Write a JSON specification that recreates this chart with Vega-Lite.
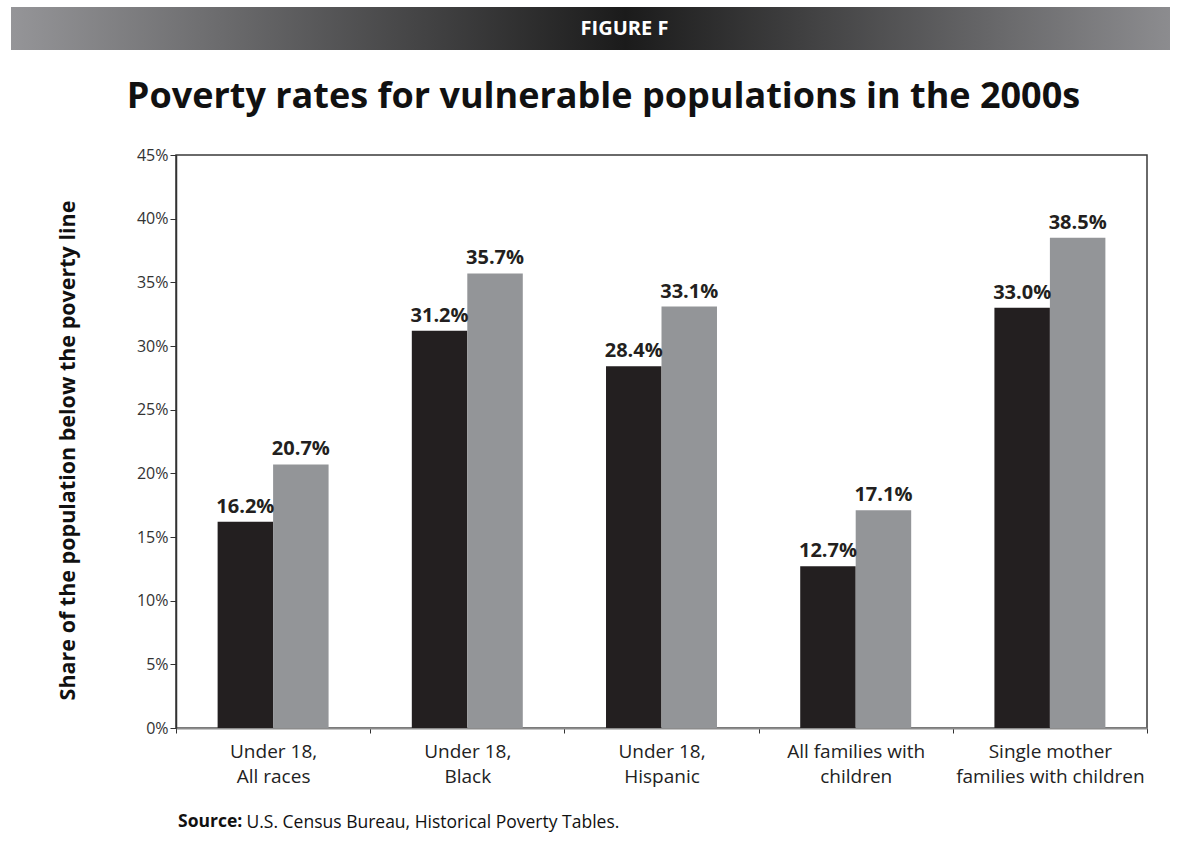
{
  "$schema": "https://vega.github.io/schema/vega-lite/v6.json",
  "background": "white",
  "padding": {"left": 11, "top": 7, "right": 10, "bottom": 5},
  "bounds": "flush",
  "spacing": 105,
  "config": {"view": {"stroke": null}, "font": "Open Sans"},
  "datasets": {
    "poverty": [
      {"group": "Under 18,\nAll races", "year": "2000", "rate": 0.162},
      {"group": "Under 18,\nAll races", "year": "2009", "rate": 0.207},
      {"group": "Under 18,\nBlack", "year": "2000", "rate": 0.312},
      {"group": "Under 18,\nBlack", "year": "2009", "rate": 0.357},
      {"group": "Under 18,\nHispanic", "year": "2000", "rate": 0.284},
      {"group": "Under 18,\nHispanic", "year": "2009", "rate": 0.331},
      {"group": "All families with\nchildren", "year": "2000", "rate": 0.127},
      {"group": "All families with\nchildren", "year": "2009", "rate": 0.171},
      {"group": "Single mother\nfamilies with children", "year": "2000", "rate": 0.330},
      {"group": "Single mother\nfamilies with children", "year": "2009", "rate": 0.385}
    ]
  },
  "vconcat": [
    {
      "width": 1159,
      "height": 43,
      "data": {"values": [{"label": "FIGURE F"}]},
      "layer": [
        {
          "mark": {
            "type": "rect",
            "fill": {
              "gradient": "linear", "x1": 0, "y1": 0, "x2": 1, "y2": 0,
              "stops": [
                {"offset": 0, "color": "#959598"},
                {"offset": 0.53, "color": "#1b1b1b"},
                {"offset": 1, "color": "#8c8c8f"}
              ]
            }
          },
          "encoding": {}
        },
        {
          "mark": {"type": "text", "color": "white", "fontWeight": "bold", "fontSize": 20, "font": "Open Sans", "dx": 34, "baseline": "middle"},
          "encoding": {"text": {"field": "label"}}
        }
      ]
    },
    {
      "bounds": "flush",
      "spacing": 0,
      "hconcat": [
        {
          "width": 165,
          "height": 573,
          "title": {
            "text": "Source:", "orient": "bottom", "anchor": "start", "frame": "group",
            "font": "Open Sans", "fontSize": 17.5, "fontWeight": "bold", "color": "#111111",
            "dx": 167, "offset": 94, "baseline": "middle"
          },
          "data": {"values": [{"blank": ""}]},
          "mark": {"type": "rect", "opacity": 0},
          "encoding": {}
        },
        {
          "width": 971,
          "height": 573,
          "view": {"stroke": "#3a3a3a", "strokeWidth": 1.5},
          "data": {"name": "poverty"},
          "title": {
            "text": "Poverty rates for vulnerable populations in the 2000s",
            "font": "Open Sans", "fontSize": 36, "fontWeight": "bold", "color": "#111111",
            "anchor": "middle", "frame": "group", "dx": -58, "baseline": "alphabetic", "offset": 3
          },
          "encoding": {
            "x": {
              "field": "group", "type": "nominal", "sort": null,
              "scale": {"paddingInner": 0, "paddingOuter": 0},
              "axis": {
                "title": "U.S. Census Bureau, Historical Poverty Tables.",
                "titleFont": "Open Sans", "titleFontSize": 17.5, "titleFontWeight": "normal", "titleColor": "#111111",
                "titleX": 70, "titleY": 94, "titleAlign": "left", "titleBaseline": "middle",
                "tickBand": "extent", "labelAngle": 0, "labelLimit": 400,
                "labelExpr": "split(datum.label, '\\n')",
                "labelFont": "Open Sans", "labelFontSize": 19, "labelLineHeight": 25,
                "labelColor": "#222222", "labelPadding": 9,
                "ticks": true, "tickSize": 5, "tickColor": "#333333",
                "domainColor": "#8c8c8c", "domainWidth": 2
              }
            },
            "xOffset": {"field": "year", "type": "nominal", "scale": {"paddingInner": 0, "paddingOuter": 0.75}},
            "y": {
              "field": "rate", "type": "quantitative",
              "scale": {"domain": [0, 0.45], "nice": false},
              "axis": {
                "title": "Share of the population below the poverty line",
                "titleFont": "Open Sans", "titleFontSize": 21.5, "titleFontWeight": "bold", "titleColor": "#111111",
                "titleX": -108, "titleY": 295, "titleBaseline": "middle", "titleAlign": "center",
                "values": [0, 0.05, 0.1, 0.15, 0.2, 0.25, 0.3, 0.35, 0.4, 0.45],
                "format": ".0%", "labelFont": "Open Sans", "labelFontSize": 16, "labelColor": "#333333",
                "labelPadding": 2, "tickSize": 6, "tickColor": "#333333",
                "domainColor": "#333333", "domainWidth": 1.5, "grid": false
              }
            },
            "color": {"field": "year", "type": "nominal", "scale": {"range": ["#231f20", "#939598"]}, "legend": null}
          },
          "layer": [
            {"mark": {"type": "bar"}},
            {
              "mark": {"type": "text", "fontWeight": "bold", "fontSize": 20, "font": "Open Sans", "color": "#231f20", "baseline": "alphabetic", "dy": -9},
              "encoding": {"text": {"field": "rate", "type": "quantitative", "format": ".1%"}, "color": {"value": "#231f20"}}
            }
          ]
        }
      ]
    }
  ]
}
